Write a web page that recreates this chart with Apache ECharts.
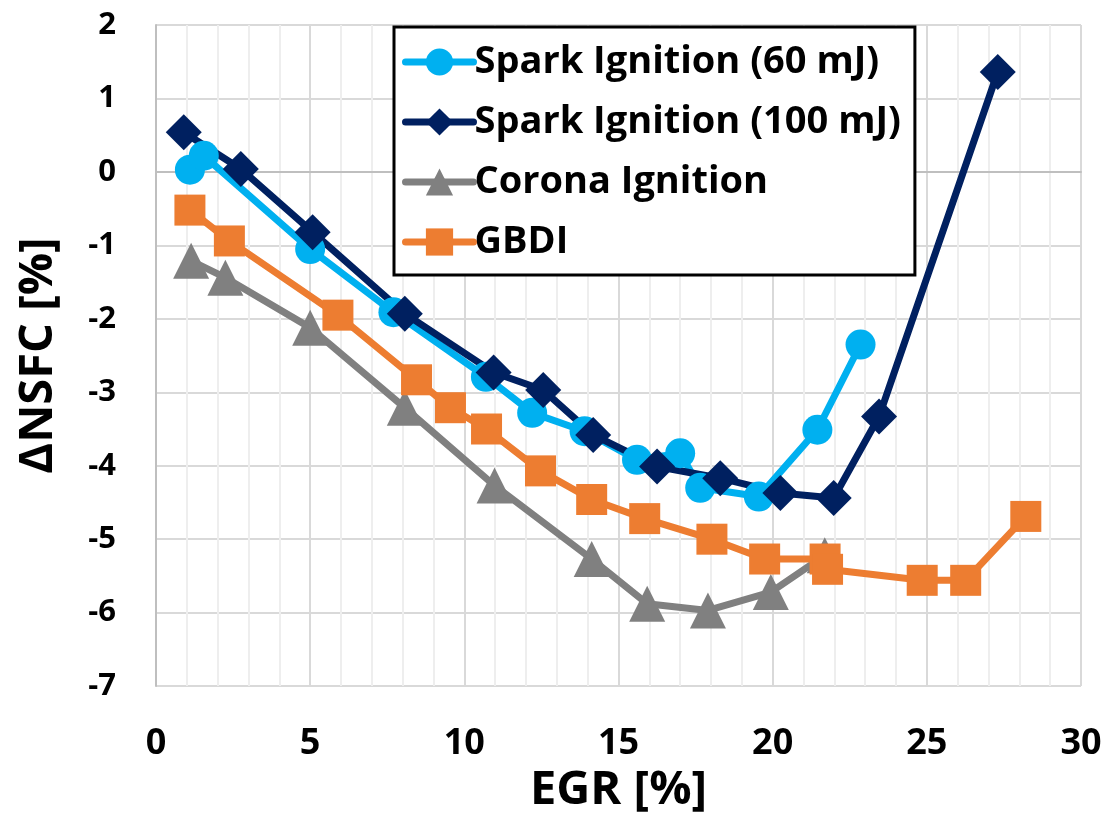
<!DOCTYPE html>
<html>
<head>
<meta charset="utf-8">
<script src="https://cdn.jsdelivr.net/npm/echarts@6/dist/echarts.min.js"></script>
<style>
  html, body { margin: 0; padding: 0; background: #fff; }
  #container { width: 1106px; height: 819px; }
</style>
</head>
<body>
<div id="container"></div>
<script>
// [EGR %, dNSFC %]
var sparkLow = [[1.1, 0.03], [1.55, 0.22], [5.0, -1.05], [7.7, -1.91], [10.7, -2.79], [12.2, -3.28],
    [13.9, -3.53], [15.6, -3.92], [17.0, -3.83], [17.65, -4.3], [19.55, -4.42], [21.45, -3.51], [22.85, -2.35]];
var sparkHigh = [[0.9, 0.54], [2.75, 0.04], [5.08, -0.82], [8.07, -1.93], [10.95, -2.73], [12.56, -2.97],
    [14.18, -3.58], [16.25, -4.01], [18.3, -4.17], [20.25, -4.37], [21.98, -4.44], [23.45, -3.33], [27.3, 1.36]];
var corona = [[1.14, -1.21], [2.25, -1.44], [5.0, -2.12], [8.07, -3.21], [10.98, -4.27], [14.13, -5.27],
    [15.93, -5.88], [17.9, -5.97], [19.94, -5.72], [21.69, -5.22]];
var gbdi = [[1.1, -0.52], [2.38, -0.94], [5.9, -1.95], [8.45, -2.83], [9.55, -3.21], [10.72, -3.5],
    [12.47, -4.07], [14.13, -4.46], [15.85, -4.72], [18.03, -5.0], [19.74, -5.27], [21.7, -5.27],
    [21.78, -5.41], [24.85, -5.56], [26.26, -5.56], [28.21, -4.69]];

var names = ['Spark Ignition (60 mJ)', 'Spark Ignition (100 mJ)', 'Corona Ignition', 'GBDI'];
var colors = ['#00b0f0', '#002060', '#808080', '#ed7d31'];
var symbols = ['circle', 'diamond', 'triangle', 'rect'];
var symbolSizes = [30, 36, 36, 31];

var font = '"Open Sans", Lato, sans-serif';
var myChart = echarts.init(document.getElementById('container'));

function mkSeries(i, data) {
    return {
        name: names[i],
        type: 'line',
        data: data,
        symbol: symbols[i],
        symbolSize: symbolSizes[i],
        showAllSymbol: true,
        color: colors[i],
        lineStyle: { width: 7, color: colors[i], cap: 'round', join: 'round' },
        itemStyle: { color: colors[i] },
        animation: false
    };
}

var option = {
    backgroundColor: '#fff',
    grid: { left: 156, right: 25, top: 25, bottom: 127 },
    legend: {
        orient: 'vertical',
        left: 394,
        top: 27,
        data: names,
        backgroundColor: '#fff',
        borderColor: '#000',
        borderWidth: 3,
        padding: [16, 14, 14, 8],
        itemGap: 22,
        itemWidth: 68,
        itemHeight: 34,
        lineStyle: { width: 7, cap: 'round' },
        textStyle: { fontFamily: font, fontWeight: 'bold', fontSize: 38, color: '#000', padding: [0, 0, 0, -4] }
    },
    xAxis: {
        type: 'value',
        min: 0, max: 30, interval: 5,
        name: 'EGR [%]',
        nameLocation: 'middle',
        nameGap: 74,
        nameTextStyle: { fontFamily: font, fontWeight: 'bold', fontSize: 47, color: '#000' },
        axisLine: { show: true, lineStyle: { color: '#bfbfbf', width: 2 } },
        axisTick: { show: false },
        axisLabel: { margin: 40, fontFamily: font, fontWeight: 'bold', fontSize: 36, color: '#000' },
        splitLine: { show: true, lineStyle: { color: '#d9d9d9', width: 2 } },
        minorTick: { show: false, splitNumber: 5 },
        minorSplitLine: { show: true, lineStyle: { color: '#eeeeee', width: 2 } }
    },
    yAxis: {
        type: 'value',
        min: -7, max: 2, interval: 1,
        name: 'ΔNSFC [%]',
        nameLocation: 'middle',
        nameGap: 94,
        nameTextStyle: { fontFamily: font, fontWeight: 'bold', fontSize: 47, color: '#000' },
        axisLine: { show: true, lineStyle: { color: '#bfbfbf', width: 2 } },
        axisTick: { show: false },
        axisLabel: { margin: 40, fontFamily: font, fontWeight: 'bold', fontSize: 31, color: '#000' },
        splitLine: { show: true, lineStyle: { color: '#d9d9d9', width: 2 } }
    },
    series: [
        mkSeries(0, sparkLow),
        mkSeries(1, sparkHigh),
        mkSeries(2, corona),
        mkSeries(3, gbdi)
    ]
};
myChart.setOption(option);
</script>
</body>
</html>
